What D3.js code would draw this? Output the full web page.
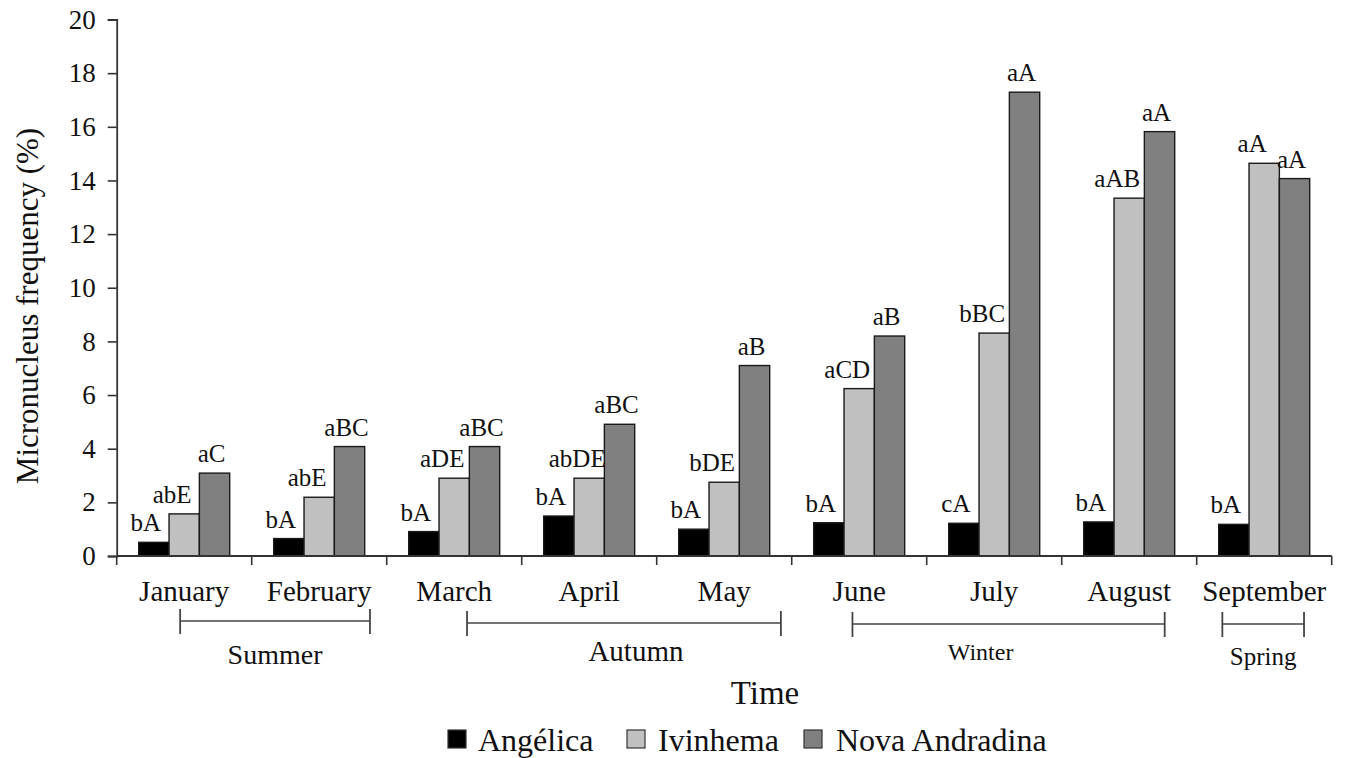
<!DOCTYPE html>
<html>
<head>
<meta charset="utf-8">
<script src="https://cdn.jsdelivr.net/npm/d3@7"></script>
<style>
  html, body { margin: 0; padding: 0; background: #fff; }
  svg { display: block; }
</style>
</head>
<body>
<svg id="chart" width="1345" height="758"></svg>
<script>
// Monthly micronucleus frequency (%) for the three sampling sites
const months = ["January", "February", "March", "April", "May", "June", "July", "August", "September"];
const sites = ["Angélica", "Ivinhema", "Nova Andradina"];

const angelica      = [0.51, 0.65, 0.91, 1.49, 1.00, 1.24, 1.22, 1.27, 1.18];
const ivinhema      = [1.57, 2.19, 2.90, 2.90, 2.75, 6.24, 8.31, 13.34, 14.64];
const novaAndradina = [3.09, 4.08, 4.08, 4.91, 7.10, 8.20, 17.29, 15.82, 14.07];

// Significance letters shown above each bar
const angelicaLetters      = ["bA", "bA", "bA", "bA", "bA", "bA", "cA", "bA", "bA"];
const ivinhemaLetters      = ["abE", "abE", "aDE", "abDE", "bDE", "aCD", "bBC", "aAB", "aA"];
const novaAndradinaLetters = ["aC", "aBC", "aBC", "aBC", "aB", "aB", "aA", "aA", "aA"];

const yTicks = [0, 2, 4, 6, 8, 10, 12, 14, 16, 18, 20];

const seasons     = ["Summer", "Autumn", "Winter", "Spring"];
const seasonFirst = ["January", "March", "June", "September"];
const seasonLast  = ["February", "May", "August", "September"];

const fills = ["#000000", "#c0c0c0", "#808080"];
const FONT = '"Liberation Serif", "Times New Roman", Tinos, serif';

const rows = months.map((m, i) => ({
  month: m,
  values: [angelica[i], ivinhema[i], novaAndradina[i]],
  letters: [angelicaLetters[i], ivinhemaLetters[i], novaAndradinaLetters[i]]
}));

const svg = d3.select("#chart").style("font-family", FONT);
const axisColor = "#333";
const textColor = "#111";

const plotLeft = 116.7, plotRight = 1331.7, plotTop = 19.5, plotBase = 556;

const x0 = d3.scaleBand().domain(months).range([plotLeft, plotRight])
  .paddingInner(0.326).paddingOuter(0.163);
const x1 = d3.scaleBand().domain(d3.range(3)).range([0, x0.bandwidth()]);
const y = d3.scaleLinear().domain([0, 20]).range([plotBase, plotTop]);
const step = x0.step();

// Bars
const groups = svg.append("g").selectAll("g").data(rows).join("g")
  .attr("transform", d => `translate(${x0(d.month)},0)`);

groups.selectAll("rect").data(d => d.values).join("rect")
  .attr("x", (v, i) => x1(i))
  .attr("y", v => y(v))
  .attr("width", x1.bandwidth())
  .attr("height", v => plotBase - y(v))
  .attr("fill", (v, i) => fills[i])
  .attr("stroke", "#1a1a1a")
  .attr("stroke-width", 1.4);

// Letters above bars
const letterShift = [-8, -12, -3];
groups.selectAll("text").data(d => d.values.map((v, i) => ({ v, i, t: d.letters[i] }))).join("text")
  .attr("x", d => x1(d.i) + x1.bandwidth() / 2 + letterShift[d.i])
  .attr("y", d => y(d.v) - 11)
  .attr("text-anchor", "middle")
  .style("font-family", FONT)
  .attr("font-size", 25)
  .attr("fill", textColor)
  .text(d => d.t);

// Y axis
const yAxis = d3.axisLeft(y).tickValues(yTicks).tickSize(9).tickPadding(12).tickFormat(d3.format("d"));
const gy = svg.append("g").attr("transform", `translate(${plotLeft},0)`).call(yAxis)
  .attr("font-family", null);
gy.select(".domain").attr("stroke", axisColor).attr("stroke-width", 1.8);
gy.selectAll(".tick line").attr("stroke", axisColor).attr("stroke-width", 1.6);
gy.selectAll(".tick text").attr("font-size", 27).attr("fill", textColor)
  .style("font-family", FONT);

// X axis: baseline with ticks at month boundaries
const gx = svg.append("g");
gx.append("line").attr("x1", plotLeft).attr("x2", plotRight).attr("y1", plotBase).attr("y2", plotBase)
  .attr("stroke", axisColor).attr("stroke-width", 1.8);
const boundaries = d3.range(months.length + 1).map(i => plotLeft + i * step);
gx.selectAll("line.tk").data(boundaries).join("line").attr("class", "tk")
  .attr("x1", d => d).attr("x2", d => d).attr("y1", plotBase).attr("y2", plotBase + 9)
  .attr("stroke", axisColor).attr("stroke-width", 1.6);

gx.selectAll("text").data(months).join("text")
  .attr("x", d => x0(d) + x0.bandwidth() / 2)
  .attr("y", 601)
  .attr("text-anchor", "middle")
  .style("font-family", FONT)
  .attr("font-size", 29)
  .attr("fill", textColor)
  .text(d => d);

// Season brackets
const bracketStart = [0.47, 0.595, 0.45, 0.19];
const bracketEnd   = [0.876, 0.92, 0.763, 0.795];
const bracketY     = [621, 623, 624, 624];
const seasonFont   = [28, 29, 24, 25];
const seasonLabelY = [664, 661, 660, 665];
const seasonShift  = [0, 12, -28, 0];
const gs = svg.append("g");
seasons.forEach((s, i) => {
  const xa = plotLeft + months.indexOf(seasonFirst[i]) * step + bracketStart[i] * step;
  const xb = plotLeft + months.indexOf(seasonLast[i]) * step + bracketEnd[i] * step;
  const yy = bracketY[i];
  gs.append("line").attr("x1", xa).attr("x2", xb).attr("y1", yy).attr("y2", yy)
    .attr("stroke", "#444").attr("stroke-width", 1.5);
  [xa, xb].forEach(xx => gs.append("line").attr("x1", xx).attr("x2", xx)
    .attr("y1", yy - 12).attr("y2", yy + 13).attr("stroke", "#444").attr("stroke-width", 1.8));
  gs.append("text").attr("x", (xa + xb) / 2 + seasonShift[i]).attr("y", seasonLabelY[i])
    .attr("text-anchor", "middle").style("font-family", FONT)
    .attr("font-size", seasonFont[i]).attr("fill", textColor)
    .text(s);
});

// Axis titles
svg.append("text")
  .attr("transform", "translate(38,306) rotate(-90)")
  .attr("text-anchor", "middle")
  .style("font-family", FONT)
  .attr("font-size", 31)
  .attr("fill", textColor)
  .text("Micronucleus frequency (%)");

svg.append("text")
  .attr("x", 765).attr("y", 704)
  .attr("text-anchor", "middle")
  .style("font-family", FONT)
  .attr("font-size", 33)
  .attr("fill", textColor)
  .text("Time");

// Legend
const legendX = [448, 627, 804];
const legendTextX = [478, 658, 836];
const lg = svg.append("g");
sites.forEach((s, i) => {
  lg.append("rect").attr("x", legendX[i]).attr("y", 730).attr("width", 18).attr("height", 18)
    .attr("fill", fills[i]).attr("stroke", "#333").attr("stroke-width", 1.2);
  lg.append("text").attr("x", legendTextX[i]).attr("y", 751)
    .style("font-family", FONT)
    .attr("font-size", 32).attr("fill", textColor).text(s);
});
</script>
</body>
</html>
